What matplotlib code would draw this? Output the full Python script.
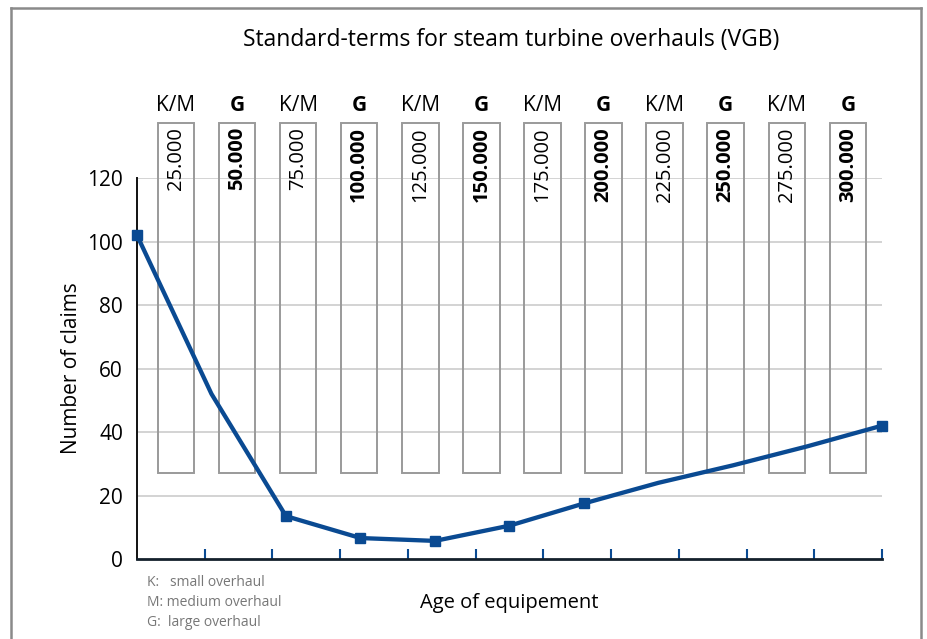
import numpy as np
import matplotlib.pyplot as plt
import matplotlib.transforms as mtransforms
from matplotlib.patches import Rectangle

plt.rcParams['font.family'] = ['Open Sans', 'DejaVu Sans']

# claims over age of equipment
age_idx = np.arange(11)
claims = [102, 52, 13.5, 6.6, 5.7, 10.5, 17.5, 24, 29.5, 35.5, 42]
marker_idx = [0, 2, 3, 4, 5, 6, 10]

# overhaul schedule columns
overhaul_types = ["K/M", "G"] * 6
overhaul_hours = ["25.000", "50.000", "75.000", "100.000", "125.000", "150.000",
                  "175.000", "200.000", "225.000", "250.000", "275.000", "300.000"]

legend_lines = ["K:   small overhaul", "M: medium overhaul", "G:  large overhaul"]

line_color = "#0a4a92"

fig = plt.figure(figsize=(9.28, 6.39), dpi=100)
ax = fig.add_axes([0.1476, 0.1252, 0.8028, 0.5962])

# gridlines
for yv in range(20, 121, 20):
    ax.axhline(yv, color="#cccccc", lw=1.2, zorder=0)

# overhaul boxes (x in axes fraction, y in data)
trans = mtransforms.blended_transform_factory(ax.transAxes, ax.transData)
box_w = 0.049
for i, (t, h) in enumerate(zip(overhaul_types, overhaul_hours)):
    xc = 0.0523 + 0.0820 * i
    ax.add_patch(Rectangle((xc - box_w / 2, 27.2), box_w, 137.2 - 27.2, transform=trans,
                           fill=False, edgecolor="#9a9a9a", lw=1.4, clip_on=False, zorder=1))
    bold = "bold" if t == "G" else "normal"
    ax.text(xc, 142.8, t, transform=trans, ha="center", va="center", fontsize=15,
            fontweight=bold, clip_on=False)
    ax.text(xc, 136.0, h, transform=trans, ha="center", va="top", rotation=90,
            fontsize=14.5, fontweight=bold, clip_on=False)

ax.plot(age_idx, claims, color=line_color, lw=3.1, zorder=3, solid_joinstyle="round")
ax.plot(age_idx[marker_idx], np.array(claims)[marker_idx], "s", color=line_color,
        ms=7.5, zorder=4, clip_on=False)

ax.set_xlim(0, 10)
ax.set_ylim(0, 120)
ax.set_xticks(np.linspace(0, 10, 12)[1:])
ax.set_xticklabels([])
ax.set_yticks(range(0, 121, 20))
ax.tick_params(axis="x", direction="in", length=7, width=1.5, colors=line_color)
ax.tick_params(axis="y", length=0, labelsize=15, pad=10)
for s in ["top", "right"]:
    ax.spines[s].set_visible(False)
ax.spines["left"].set_color("#111111")
ax.spines["left"].set_linewidth(1.4)
ax.spines["bottom"].set_color("#14202c")
ax.spines["bottom"].set_linewidth(2)

ax.set_ylabel("Number of claims", fontsize=15, labelpad=4)
fig.text(509 / 928, 1 - 603 / 639, "Age of equipement", ha="center", va="center", fontsize=14.5)
fig.text(511 / 928, 1 - 40 / 639, "Standard-terms for steam turbine overhauls (VGB)",
         ha="center", va="center", fontsize=16.5)

for k, s in enumerate(legend_lines):
    fig.text(147 / 928, 1 - (582 + 20.5 * k) / 639, s, ha="left", va="center",
             fontsize=10, color="#777777")

# outer frame
fig.add_artist(plt.Line2D([11 / 928, 11 / 928], [0, 1 - 8 / 639], transform=fig.transFigure,
                          color="#8a8a8a", lw=1.8))
fig.add_artist(plt.Line2D([11 / 928, 921 / 928], [1 - 8 / 639, 1 - 8 / 639],
                          transform=fig.transFigure, color="#8a8a8a", lw=1.8))
fig.add_artist(plt.Line2D([921 / 928, 921 / 928], [0, 1 - 8 / 639], transform=fig.transFigure,
                          color="#8a8a8a", lw=1.8))

fig.savefig("out.png", dpi=100)
